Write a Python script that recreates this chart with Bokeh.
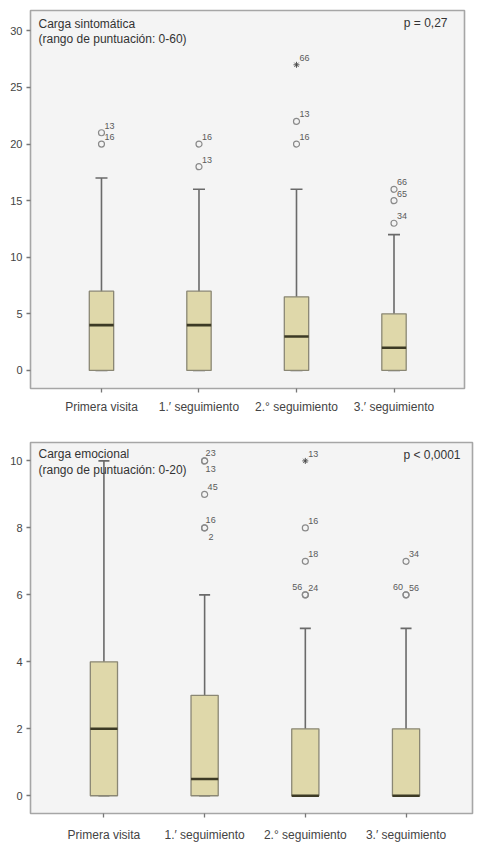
from bokeh.plotting import figure
from bokeh.models import Range1d, FixedTicker, Label, ColumnDataSource, Whisker, TeeHead
from bokeh.layouts import column
from bokeh.embed import file_html
from bokeh.resources import INLINE
from bokeh.core.properties import value

categories = ["Primera visita", "1.\u2032 seguimiento", "2.\u00b0 seguimiento", "3.\u2032 seguimiento"]

# Chart 1: Carga sintomática
s_low = [0, 0, 0, 0]
s_q1 = [0, 0, 0, 0]
s_med = [4, 4, 3, 2]
s_q3 = [7, 7, 6.5, 5]
s_high = [17, 16, 16, 12]
s_out_cat = [0, 0, 1, 1, 2, 2, 2, 3, 3, 3]
s_out_val = [21, 20, 20, 18, 27, 22, 20, 16, 15, 13]
s_out_lab = ["13", "16", "16", "13", "66", "13", "16", "66", "65", "34"]
s_out_kind = ["o", "o", "o", "o", "*", "o", "o", "o", "o", "o"]
s_lab_pos = ["ne", "ne", "ne", "ne", "ne", "ne", "ne", "ne", "ne", "ne"]
s_ticks = [0, 5, 10, 15, 20, 25, 30]

# Chart 2: Carga emocional
e_low = [0, 0, 0, 0]
e_q1 = [0, 0, 0, 0]
e_med = [2, 0.5, 0, 0]
e_q3 = [4, 3, 2, 2]
e_high = [10, 6, 5, 5]
e_out_cat = [1, 1, 1, 1, 1, 2, 2, 2, 2, 2, 3, 3, 3]
e_out_val = [10, 10, 9, 8, 8, 10, 8, 7, 6, 6, 7, 6, 6]
e_out_lab = ["23", "13", "45", "16", "2", "13", "16", "18", "56", "24", "34", "60", "56"]
e_out_kind = ["o", "o", "o", "o", "o", "*", "o", "o", "o", "o", "o", "o", "o"]
e_lab_pos = ["n", "s", "ne", "n", "se", "ne", "ne", "ne", "w", "ne", "ne", "w", "ne"]
e_ticks = [0, 2, 4, 6, 8, 10]

FONT = "Liberation Sans"
BOX_FILL = "#dfd8aa"
BOX_LINE = "#8a8774"
MED_COL = "#3c3a25"
WHISK = "#6a6a6a"

ANCH = {
    "ne": ("left", 3, -7),
    "n": ("left", 1, -8),
    "s": ("left", 1, 8),
    "se": ("left", 4, 9),
    "w": ("right", -3, -8),
}


def make(title1, title2, ptext, p_dx, lo, q1, med, q3, hi, oc, ov, ol, ok, op, ticks,
         xr, yr, width, height, mb, box_w, cap_px, t_dy1, t_dy2, xstand):
    p = figure(width=width, height=height, x_range=Range1d(*xr), y_range=Range1d(*yr),
               output_backend="svg", toolbar_location=None, tools="")
    p.min_border_left, p.min_border_right, p.min_border_top, p.min_border_bottom = mb
    p.background_fill_color = "#f4f4f4"
    p.border_fill_color = "white"
    p.outline_line_color = "#a6a6a6"
    p.outline_line_width = 1.6
    p.xgrid.visible = False
    p.ygrid.visible = False

    xs = [i + 1 for i in range(len(categories))]
    src = ColumnDataSource(dict(
        x=xs, lo=lo, q1=q1, med=med, q3=q3, hi=hi,
        mx0=[x - box_w / 2 for x in xs], mx1=[x + box_w / 2 for x in xs]))

    wh = Whisker(base="x", lower="lo", upper="hi", source=src, line_color=WHISK, line_width=1.6,
                 upper_head=TeeHead(size=cap_px, line_color=WHISK, line_width=1.6),
                 lower_head=TeeHead(size=cap_px, line_color=WHISK, line_width=1.6))
    p.add_layout(wh)
    p.vbar(x="x", width=box_w, bottom="q1", top="q3", source=src,
           fill_color=BOX_FILL, line_color=BOX_LINE, line_width=1.3)
    p.segment(x0="mx0", x1="mx1", y0="med", y1="med", source=src,
              line_color=MED_COL, line_width=2.6)

    ox = [xs[c] for c in oc]
    circ = ColumnDataSource(dict(x=[x for x, k in zip(ox, ok) if k == "o"],
                                 y=[v for v, k in zip(ov, ok) if k == "o"]))
    star = ColumnDataSource(dict(x=[x for x, k in zip(ox, ok) if k == "*"],
                                 y=[v for v, k in zip(ov, ok) if k == "*"]))
    p.scatter(x="x", y="y", source=circ, marker="circle", size=6, fill_color=None,
              line_color="#8a8a8a", line_width=1.2)
    p.scatter(x="x", y="y", source=star, marker="asterisk", size=6, line_color="#444444",
              line_width=0.9)

    lsrc = ColumnDataSource(dict(
        x=ox, y=ov, t=ol,
        align=[ANCH[a][0] for a in op],
        dx=[ANCH[a][1] for a in op],
        dy=[ANCH[a][2] for a in op]))
    p.text(x="x", y="y", text="t", source=lsrc, x_offset="dx", y_offset="dy",
           text_align="align", text_baseline="middle", text_font=value(FONT),
           text_font_size="9px", text_color="#5a5a5a")

    p.xaxis.ticker = FixedTicker(ticks=xs)
    p.xaxis.major_label_overrides = {x: c for x, c in zip(xs, categories)}
    p.yaxis.ticker = FixedTicker(ticks=ticks)
    for ax in (p.xaxis, p.yaxis):
        ax.axis_line_color = None
        ax.major_tick_in = 0
        ax.major_tick_out = 4
        ax.major_tick_line_color = "#777777"
        ax.major_tick_line_width = 1.3
        ax.minor_tick_line_color = None
        ax.major_label_text_font = FONT
        ax.major_label_text_color = "#444444"
    p.xaxis.major_label_text_font_size = "12px"
    p.yaxis.major_label_text_font_size = "11px"
    p.xaxis.major_label_standoff = xstand
    p.yaxis.major_label_standoff = 4

    for txt, dy in ((title1, t_dy1), (title2, t_dy2)):
        p.add_layout(Label(x=xr[0], y=yr[1], x_offset=8, y_offset=dy, text=txt,
                           text_baseline="middle", text_font=FONT, text_font_size="12px",
                           text_color="#333333"))
    p.add_layout(Label(x=xr[1], y=yr[1], x_offset=p_dx, y_offset=-12, text=ptext,
                       text_align="right", text_baseline="middle", text_font=FONT,
                       text_font_size="12px", text_color="#333333"))
    return p


p1 = make("Carga sintomática", "(rango de puntuación: 0-60)", "p = 0,27", -17,
          s_low, s_q1, s_med, s_q3, s_high, s_out_cat, s_out_val, s_out_lab, s_out_kind, s_lab_pos,
          s_ticks, (0.272, 4.723), (-1.6, 31.8), 469, 420, (30, 5, 10, 32), 0.25, 12, -13, -28, 7)
p2 = make("Carga emocional", "(rango de puntuación: 0-20)", "p < 0,0001", -12,
          e_low, e_q1, e_med, e_q3, e_high, e_out_cat, e_out_val, e_out_lab, e_out_kind, e_lab_pos,
          e_ticks, (0.271, 4.66), (-0.53, 10.55), 477, 424, (29, 0, 22, 29), 0.27, 11, -11, -27, 10)

layout = column(p1, p2, spacing=0)
open("out.html", "w").write(file_html(layout, INLINE))
